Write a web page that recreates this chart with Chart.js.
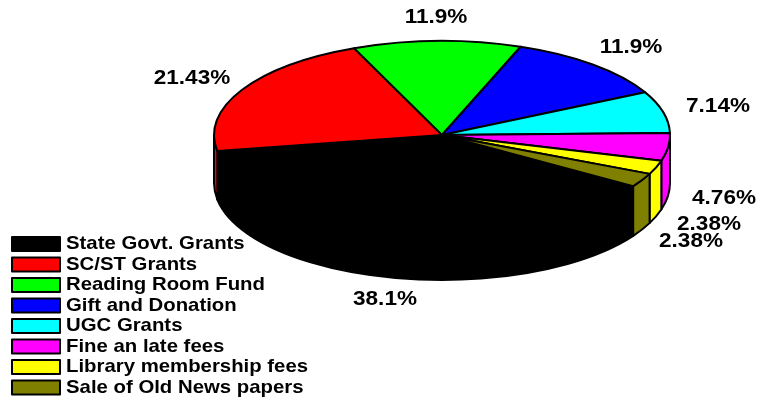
<!DOCTYPE html>
<html>
<head>
<meta charset="utf-8">
<title>Sources of library funds</title>
<script src="https://cdn.jsdelivr.net/npm/chart.js@4"></script>
<style>
    html, body { margin: 0; padding: 0; background: #fff; }
    #wrap { position: relative; width: 757px; height: 399px; }
</style>
</head>
<body>
<div id="wrap"><canvas id="fundsChart"></canvas></div>
<script>
// Funding sources, clockwise from the lower right
const categories = ['State Govt. Grants', 'SC/ST Grants', 'Reading Room Fund', 'Gift and Donation',
    'UGC Grants', 'Fine an late fees', 'Library membership fees', 'Sale of Old News papers'];
const shares = [38.1, 21.43, 11.9, 11.9, 7.14, 4.76, 2.38, 2.38];
const sliceColors = ['#000000', '#ff0000', '#00ff00', '#0000ff', '#00ffff', '#ff00ff', '#ffff00', '#808000'];

// Centre of each percentage label
const labelSpots = [[385, 299], [192, 78], [436, 17], [631, 47], [718, 106], [724, 198], [709, 224], [691, 241]];

// Tilted disc: top ellipse, rim height, and a slightly rounder lower edge
const disc = { cx: 442, cy: 135, rx: 228, ry: 94, depth: 48, lowerRy: 97 };
const key = { x: 12, y: 237, boxW: 48, boxH: 14, rowH: 20.5, textX: 66 };
const textStretch = 1.1;

const TWO_PI = Math.PI * 2;

// The text faces are wide, so squeeze the coordinate system instead of the font
function wideText(ctx, text, x, y, align) {
    ctx.save();
    ctx.translate(x, y);
    ctx.scale(textStretch, 1);
    ctx.textAlign = align;
    ctx.textBaseline = 'middle';
    ctx.fillText(text, 0, 0);
    ctx.restore();
}

// Rim of one slice, only the part facing the viewer (0..PI on the canvas)
function drawRim(ctx, start, end, color) {
    for (let k = -1; k <= 1; k++) {
        const a = Math.max(start + k * TWO_PI, 0);
        const b = Math.min(end + k * TWO_PI, Math.PI);
        if (a >= b) continue;
        ctx.beginPath();
        ctx.ellipse(disc.cx, disc.cy, disc.rx, disc.ry, 0, a, b);
        ctx.ellipse(disc.cx, disc.cy + disc.depth, disc.rx, disc.lowerRy, 0, b, a, true);
        ctx.closePath();
        ctx.fillStyle = color;
        ctx.fill();
        ctx.stroke();
    }
}

const tiltedPie = {
    id: 'tiltedPie',
    beforeDatasetsDraw(chart) {
        const ctx = chart.ctx;
        const arcs = chart.getDatasetMeta(0).data;
        ctx.save();
        ctx.strokeStyle = '#000';
        ctx.lineWidth = 2;
        ctx.lineJoin = 'round';

        arcs.forEach((arc, i) => drawRim(ctx, arc.startAngle, arc.endAngle, sliceColors[i]));

        // top face, angles come from the pie controller
        arcs.forEach((arc, i) => {
            ctx.beginPath();
            ctx.moveTo(disc.cx, disc.cy);
            ctx.ellipse(disc.cx, disc.cy, disc.rx, disc.ry, 0, arc.startAngle, arc.endAngle);
            ctx.closePath();
            ctx.fillStyle = sliceColors[i];
            ctx.fill();
            ctx.stroke();
        });

        // percentage labels
        ctx.fillStyle = '#000';
        ctx.font = 'bold 20.5px "Liberation Sans"';
        shares.forEach((v, i) => wideText(ctx, v + '%', labelSpots[i][0], labelSpots[i][1], 'center'));

        // legend
        categories.forEach((name, i) => {
            const y = key.y + i * key.rowH;
            ctx.fillStyle = sliceColors[i];
            ctx.fillRect(key.x, y, key.boxW, key.boxH);
            ctx.strokeRect(key.x, y, key.boxW, key.boxH);
            ctx.fillStyle = '#000';
            ctx.font = 'bold 18.5px "Liberation Sans"';
            wideText(ctx, name, key.textX, y + key.boxH / 2, 'left');
        });
        ctx.restore();
        return false;
    }
};

new Chart(document.getElementById('fundsChart'), {
    type: 'pie',
    data: {
        labels: categories,
        datasets: [{
            data: shares,
            backgroundColor: sliceColors,
            borderColor: '#000',
            borderWidth: 2
        }]
    },
    options: {
        responsive: true,
        maintainAspectRatio: false,
        animation: false,
        rotation: 123,
        plugins: {
            tooltip: { enabled: false },
            legend: { display: false }
        }
    },
    plugins: [tiltedPie]
});
</script>
</body>
</html>
